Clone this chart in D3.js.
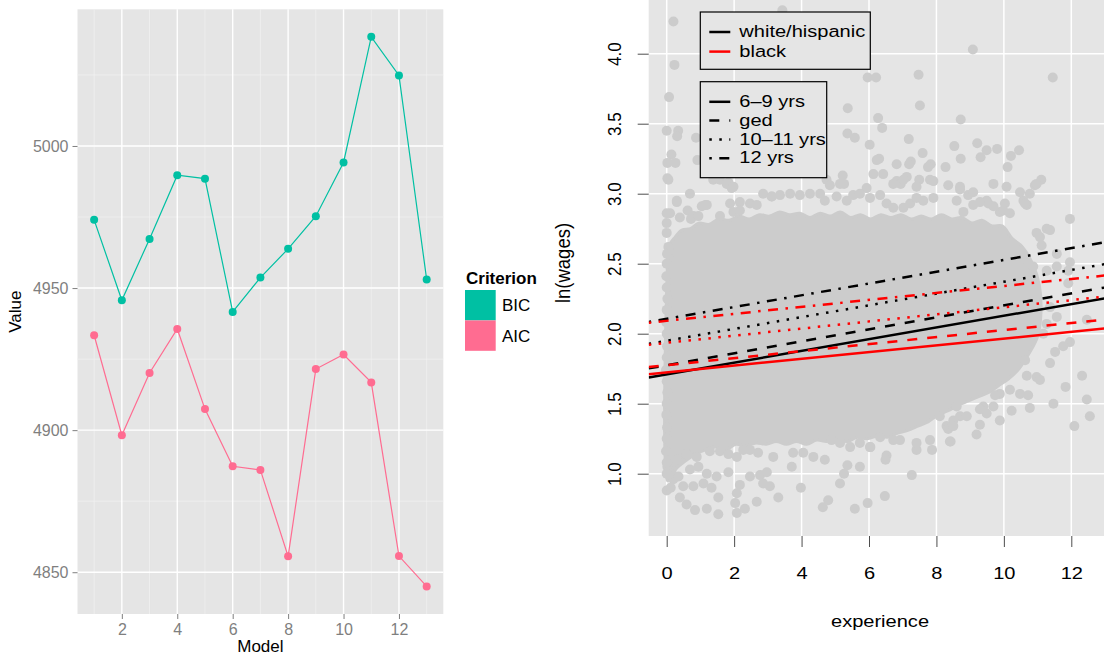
<!DOCTYPE html>
<html>
<head>
<meta charset="utf-8">
<script src="https://cdn.jsdelivr.net/npm/d3@7"></script>
<style>
  body { margin: 0; background: #ffffff; }
  svg { display: block; font-family: "Liberation Sans", Arial, Helvetica, sans-serif; }
</style>
</head>
<body>
<svg id="chart" width="1104" height="655"></svg>
<script>
// ---------- Left panel: information criteria by model ----------
const models = [1, 2, 3, 4, 5, 6, 7, 8, 9, 10, 11, 12, 13];
const bicValues = [4974.0, 4945.7, 4967.3, 4989.7, 4988.5, 4941.6, 4953.7, 4963.8, 4975.3, 4994.2, 5038.4, 5024.8, 4953.0];
const aicValues = [4933.4, 4898.2, 4920.1, 4935.6, 4907.4, 4887.3, 4886.0, 4855.6, 4921.5, 4926.6, 4916.8, 4855.7, 4845.0];
const criterionNames = ["BIC", "AIC"];
const criterionColors = ["#00c0a3", "#ff6c91"];
const modelTicks = [2, 4, 6, 8, 10, 12];
const modelMinorTicks = [1, 3, 5, 7, 9, 11, 13];
const valueTicks = [4850, 4900, 4950, 5000];
const valueMinorTicks = [4875, 4925, 4975, 5025];

// ---------- Right panel: log wages against experience ----------
const experienceTicks = [0, 2, 4, 6, 8, 10, 12];
const wageTicks = [1.0, 1.5, 2.0, 2.5, 3.0, 3.5, 4.0];
const raceGroups = ["white/hispanic", "black"];
const raceColors = ["#000000", "#ff0000"];
const educGroups = ["6\u20139 yrs", "ged", "10\u201311 yrs", "12 yrs"];
const educDashes = ["none", "10,10", "2.5,7.5", "2.5,7.5,10,7.5"];
// fitted lines: intercept at experience 0 and slope, per education group
const whiteIntercepts = [1.710, 1.775, 1.950, 2.106];
const whiteSlopes = [0.0418, 0.0427, 0.0421, 0.0421];
const blackIntercepts = [1.724, 1.775, 1.935, 2.092];
const blackSlopes = [0.0241, 0.0251, 0.0254, 0.0249];

// outline of the region where the observations overlap into a solid mass
const cloudOutline = [
  [0.02,2.50],[0.05,2.62],[0.25,2.69],[0.45,2.74],[0.70,2.75],[0.95,2.79],[1.25,2.78],[1.55,2.82],
  [1.85,2.81],[2.15,2.84],[2.45,2.82],[2.75,2.85],[3.05,2.84],[3.35,2.87],[3.65,2.85],[3.95,2.86],
  [4.25,2.83],[4.55,2.86],[4.85,2.84],[5.15,2.87],[5.45,2.83],[5.75,2.85],[6.05,2.82],[6.35,2.85],
  [6.65,2.83],[6.95,2.85],[7.25,2.82],[7.55,2.84],[7.85,2.82],[8.15,2.85],[8.45,2.82],[8.75,2.83],
  [9.05,2.79],[9.35,2.81],[9.65,2.77],[9.95,2.77],[10.25,2.68],[10.55,2.62],[10.85,2.50],[11.05,2.35],
  [11.10,2.15],[11.00,1.98],[10.75,1.86],[10.45,1.75],[10.15,1.68],[9.85,1.63],[9.55,1.58],[9.25,1.55],
  [8.95,1.52],[8.65,1.49],[8.35,1.45],[8.05,1.42],[7.75,1.37],[7.45,1.34],[7.15,1.31],[6.85,1.29],
  [6.55,1.26],[6.25,1.27],[5.95,1.25],[5.65,1.26],[5.35,1.23],[5.05,1.25],[4.75,1.23],[4.45,1.24],
  [4.15,1.21],[3.85,1.23],[3.55,1.21],[3.25,1.23],[2.95,1.21],[2.65,1.22],[2.35,1.20],[2.05,1.21],
  [1.75,1.17],[1.45,1.19],[1.15,1.17],[0.85,1.14],[0.55,1.09],[0.30,1.04],[0.10,0.97],[0.02,0.95]
];

// individual observations around that mass: [experience, ln(wage)]
const cloudPoints = [
  [0.20,4.23],[3.43,4.31],[0.23,3.92],[0.07,3.69],[9.08,4.03],[7.47,3.85],[5.96,3.83],[6.21,3.83],
  [11.45,3.83],[5.37,3.61],[7.51,3.63],[6.27,3.54],[6.39,3.47],[8.72,3.53],
  [0.00,3.45],[0.34,3.45],[0.31,3.41],[0.87,3.40],[5.36,3.43],[5.58,3.40],[6.02,3.35],[7.18,3.39],
  [8.53,3.34],[9.21,3.36],[9.49,3.31],[9.80,3.32],[10.45,3.31],[10.21,3.27],[7.59,3.29],
  [0.14,3.28],[0.02,3.22],[0.26,3.22],[0.91,3.24],[6.30,3.25],[6.23,3.24],[8.72,3.25],[9.31,3.26],
  [6.82,3.21],[7.24,3.23],[7.19,3.21],[7.83,3.21],[7.75,3.19],[8.27,3.19],[10.11,3.19],
  [0.02,3.11],[5.22,3.13],[6.13,3.14],[6.42,3.14],[7.12,3.12],[7.49,3.10],[7.91,3.09],[8.35,3.06],
  [10.92,3.06],[11.11,3.10],[0.69,3.00],[1.38,3.10],[1.83,3.08],[1.93,3.04],[4.74,3.10],[4.84,3.06],
  [5.26,3.07],[5.93,3.04],[6.82,3.09],[6.94,3.07],[8.70,3.03],[8.94,2.99],
  [11.96,2.82],[10.58,2.95],[10.68,2.92],[10.03,2.93],[9.88,2.87],[9.49,2.95],[9.54,2.93],
  [11.27,2.75],[11.07,2.69],[11.12,2.63],[11.57,2.57],[11.96,2.51],[11.91,2.45],[11.57,2.48],
  [11.27,2.45],[10.87,2.48],[10.72,2.50],[11.91,2.36],[11.37,2.19],[11.57,2.12],[11.27,2.07],
  [11.17,2.00],[11.96,1.94],[11.76,1.91],[11.52,1.87],[11.37,1.79],[10.63,1.81],[10.68,1.70],
  [10.97,1.69],[11.07,1.67],[12.32,1.70],[11.83,1.62],[12.46,1.53],[12.55,1.41],[11.47,1.50],
  [10.77,1.47],[10.72,1.56],[10.48,1.57],[12.09,1.34],[10.23,1.45],[9.88,1.38],[9.29,1.35],
  [9.19,1.28],[8.40,1.23],[8.30,1.34],[9.88,1.57],[10.18,1.60],[9.74,1.56],[9.39,1.48],[9.49,1.43],
  [8.70,1.41],[8.50,1.38],[8.60,1.48],[12.46,2.10],
  [0.05,3.10],[0.30,2.94],[1.04,2.91],[1.19,2.92],[0.10,2.86],[0.39,2.83],[0.79,2.84],[1.58,2.84],
  [1.88,2.93],[2.17,2.94],[2.47,2.93],[2.67,2.92],[1.98,2.87],[2.17,2.88],[3.11,2.98],[3.36,2.99],
  [3.66,3.00],[3.95,2.99],[4.25,3.00],[4.55,3.00],[4.69,2.95],[5.04,2.98],[5.34,2.95],[5.53,2.99],
  [5.73,3.00],[6.03,2.97],[6.33,2.99],[6.52,2.93],[6.72,2.90],[7.02,2.90],[7.22,2.93],[7.41,2.97],
  [7.61,2.95],[7.91,2.97],[8.60,2.95],[8.80,2.87],[9.09,2.92],[9.29,2.94],[9.69,2.91],[9.98,2.88],
  [10.18,2.86],[10.63,2.93],[10.77,3.00],[10.97,3.07],[11.37,2.74],[10.97,2.72],[1.58,3.10],
  [1.78,3.07],[1.98,3.05],[5.14,3.07],[6.72,3.07],[7.02,3.10],[7.41,3.05],[7.81,3.10],[8.70,3.05],
  [9.09,3.01],[9.69,3.07],[10.08,3.05],[10.48,3.01],[2.75,3.15],[2.86,3.00],[3.12,2.98],[0.62,2.88],
  [0.72,2.82],[0.94,2.84],[1.15,2.92],[0.00,2.86],[0.00,2.79],[0.00,2.72],[0.05,2.62],[0.10,2.58],
  [0.30,2.95],
  [0.00,0.88],[0.20,0.96],[0.39,0.83],[0.59,0.78],[0.84,0.74],[1.19,0.75],[1.53,0.71],[0.49,0.91],
  [0.79,0.91],[1.09,0.93],[1.33,0.90],[1.53,0.83],[0.69,1.03],[0.94,1.05],[1.19,1.00],[1.48,0.98],
  [0.30,1.10],[0.59,1.14],[0.89,1.12],[1.28,1.16],[1.83,1.01],[2.17,0.92],[2.08,0.86],[2.47,0.98],
  [2.67,0.80],[3.06,0.91],[2.03,0.79],[2.08,0.72],[2.32,0.75],[2.77,0.99],[2.97,1.01],[2.86,0.93],
  [3.31,0.83],[3.71,1.05],[3.75,1.15],[4.05,1.15],[4.35,1.12],[4.69,1.10],[3.98,0.90],[4.63,0.76],
  [4.79,0.81],[5.14,0.93],[5.26,1.00],[5.36,1.06],[5.73,1.05],[5.58,0.75],[5.96,0.79],[6.04,1.19],
  [6.47,0.84],[6.52,1.13],[6.49,1.10],[7.27,0.99],[7.41,1.17],[7.87,1.17],[8.42,1.23],[8.35,1.32],
  [0.02,1.05],[0.15,1.00],[0.35,0.98],[0.12,0.90],
  [2.47,1.17],[2.71,1.15],[3.16,1.12],[1.58,1.16],[1.83,1.14],[2.08,1.12],[2.27,1.17],
  [4.89,1.24],[5.14,1.22],[5.44,1.19],[5.73,1.22],[6.03,1.19],[6.33,1.26],[6.72,1.24],[6.92,1.24],
  [7.41,1.22],[7.81,1.24],[8.10,1.41],[8.50,1.34],[8.90,1.41],[9.29,1.46],[9.69,1.48],
  // observations at the start of the experience range
  [0.00,1.00],[0.00,1.08],[-0.02,1.16],[0.00,1.25],[0.01,1.33],[-0.01,1.42],[0.00,1.50],[0.02,1.58],
  [0.00,1.66],[-0.02,1.74],[0.00,1.83],[0.01,1.91],[0.00,2.00],[-0.01,2.08],[0.00,2.17],[0.02,2.25],
  [0.00,2.33],[-0.01,2.41],[0.00,2.50],[0.01,2.57]
];

const svg = d3.select("#chart");

// ================= left panel =================
const L = { left: 77.5, right: 443.3, top: 9.3, bottom: 614 };
const xL = d3.scaleLinear().domain([0.4, 13.6]).range([L.left, L.right]);
const yL = d3.scaleLinear().domain([4835.3, 5048.1]).range([L.bottom, L.top]);
const gL = svg.append("g");

gL.append("rect")
  .attr("x", L.left).attr("y", L.top)
  .attr("width", L.right - L.left).attr("height", L.bottom - L.top)
  .attr("fill", "#e5e5e5");

// minor grid
gL.selectAll(".vminor").data(modelMinorTicks).join("line")
  .attr("x1", d => xL(d)).attr("x2", d => xL(d))
  .attr("y1", L.top).attr("y2", L.bottom)
  .attr("stroke", "#f2f2f2").attr("stroke-width", 0.7);
gL.selectAll(".hminor").data(valueMinorTicks).join("line")
  .attr("y1", d => yL(d)).attr("y2", d => yL(d))
  .attr("x1", L.left).attr("x2", L.right)
  .attr("stroke", "#f2f2f2").attr("stroke-width", 0.7);
// major grid
gL.selectAll(".vmajor").data(modelTicks).join("line")
  .attr("x1", d => xL(d)).attr("x2", d => xL(d))
  .attr("y1", L.top).attr("y2", L.bottom)
  .attr("stroke", "#ffffff").attr("stroke-width", 1.4);
gL.selectAll(".hmajor").data(valueTicks).join("line")
  .attr("y1", d => yL(d)).attr("y2", d => yL(d))
  .attr("x1", L.left).attr("x2", L.right)
  .attr("stroke", "#ffffff").attr("stroke-width", 1.4);

// series
const series = [bicValues, aicValues].map((vals, i) => ({
  name: criterionNames[i],
  color: criterionColors[i],
  pts: models.map((m, j) => ({ m: m, v: vals[j] }))
}));
const lineL = d3.line().x(d => xL(d.m)).y(d => yL(d.v));
series.forEach(s => {
  gL.append("path").datum(s.pts)
    .attr("d", lineL).attr("fill", "none")
    .attr("stroke", s.color).attr("stroke-width", 1.2);
  gL.selectAll(null).data(s.pts).join("circle")
    .attr("cx", d => xL(d.m)).attr("cy", d => yL(d.v)).attr("r", 4)
    .attr("fill", s.color);
});

// axes
const axLY = gL.append("g").attr("transform", `translate(${L.left},0)`)
  .call(d3.axisLeft(yL).tickValues(valueTicks).tickSize(5).tickPadding(4).tickFormat(d3.format("d")));
const axLX = gL.append("g").attr("transform", `translate(0,${L.bottom})`)
  .call(d3.axisBottom(xL).tickValues(modelTicks).tickSize(5).tickPadding(5));
[axLY, axLX].forEach(ax => {
  ax.select(".domain").remove();
  ax.selectAll(".tick line").attr("stroke", "#7f7f7f");
  ax.selectAll(".tick text").attr("fill", "#7f7f7f")
    .style("font-size", "16px").style("font-family", "Liberation Sans, Arial, sans-serif");
});

gL.append("text")
  .attr("x", (L.left + L.right) / 2).attr("y", 652)
  .attr("text-anchor", "middle").style("font-size", "17px").text("Model");
gL.append("text")
  .attr("transform", `translate(21,${(L.top + L.bottom) / 2}) rotate(-90)`)
  .attr("text-anchor", "middle").style("font-size", "17px").text("Value");

// legend
const legL = gL.append("g").attr("transform", "translate(465,0)");
legL.append("text").attr("x", 1).attr("y", 284)
  .style("font-size", "17px").style("font-weight", "bold").text("Criterion");
criterionNames.forEach((n, i) => {
  legL.append("rect").attr("x", 0).attr("y", 290 + i * 30.4)
    .attr("width", 30.7).attr("height", 30.4).attr("fill", criterionColors[i]);
  legL.append("text").attr("x", 37).attr("y", 305.2 + i * 30.4).attr("dy", "0.35em")
    .style("font-size", "17px").text(n);
});

// ================= right panel =================
const R = { left: 648.7, right: 1112, top: -10, bottom: 536 };
const xR = d3.scaleLinear().domain([0, 12]).range([666.7, 1071.3]);
const yR = d3.scaleLinear().domain([1, 4]).range([473.7, 53.7]);
const gR = svg.append("g");

svg.append("defs").append("clipPath").attr("id", "clipR")
  .append("rect").attr("x", R.left).attr("y", R.top)
  .attr("width", R.right - R.left).attr("height", R.bottom - R.top);

gR.append("rect")
  .attr("x", R.left).attr("y", R.top)
  .attr("width", R.right - R.left).attr("height", R.bottom - R.top)
  .attr("fill", "#e5e5e5");

const plotR = gR.append("g").attr("clip-path", "url(#clipR)");
plotR.selectAll(".vgrid").data(experienceTicks).join("line")
  .attr("x1", d => xR(d)).attr("x2", d => xR(d))
  .attr("y1", R.top).attr("y2", R.bottom)
  .attr("stroke", "#ffffff").attr("stroke-width", 1.5);
plotR.selectAll(".hgrid").data(wageTicks).join("line")
  .attr("y1", d => yR(d)).attr("y2", d => yR(d))
  .attr("x1", R.left).attr("x2", R.right)
  .attr("stroke", "#ffffff").attr("stroke-width", 1.5);

// overlapping observations
const cloudLine = d3.line().x(d => xR(d[0])).y(d => yR(d[1])).curve(d3.curveCatmullRomClosed);
plotR.append("path").datum(cloudOutline)
  .attr("d", cloudLine)
  .attr("fill", "#cccccc").attr("stroke", "#cccccc")
  .attr("stroke-width", 3).attr("stroke-linejoin", "round");
plotR.selectAll(".obs").data(cloudPoints).join("circle")
  .attr("cx", d => xR(d[0])).attr("cy", d => yR(d[1])).attr("r", 5)
  .attr("fill", "#cccccc");

// fitted lines
const xMin = xR.invert(R.left), xMax = xR.invert(R.right);
const fits = [];
[[whiteIntercepts, whiteSlopes], [blackIntercepts, blackSlopes]].forEach((pair, r) => {
  educGroups.forEach((e, k) => {
    const b0 = pair[0][k], b1 = pair[1][k];
    fits.push({ color: raceColors[r], dash: educDashes[k],
      pts: [[xMin, b0 + b1 * xMin], [xMax, b0 + b1 * xMax]] });
  });
});
const fitLine = d3.line().x(d => xR(d[0])).y(d => yR(d[1]));
plotR.selectAll(".fit").data(fits).join("path")
  .attr("d", d => fitLine(d.pts))
  .attr("fill", "none").attr("stroke", d => d.color)
  .attr("stroke-width", 2.5)
  .attr("stroke-dasharray", d => d.dash);

// axes
const axRX = gR.append("g").attr("transform", `translate(0,${R.bottom})`)
  .call(d3.axisBottom(xR).tickValues(experienceTicks).tickSize(11));
axRX.select(".domain").remove();
axRX.selectAll(".tick line").attr("stroke", "#4d4d4d");
axRX.selectAll(".tick text")
  .attr("y", 43.3).attr("dy", 0).attr("fill", "#000")
  .attr("transform", "scale(1.18,1)")
  .style("font-size", "17px").style("font-family", "Liberation Sans, Arial, sans-serif");

const axRY = gR.append("g").attr("transform", `translate(${R.left},0)`)
  .call(d3.axisLeft(yR).tickValues(wageTicks).tickSize(11).tickFormat(d3.format(".1f")));
axRY.select(".domain").remove();
axRY.selectAll(".tick line").attr("stroke", "#4d4d4d");
axRY.selectAll(".tick text")
  .attr("x", 0).attr("y", 0).attr("dy", 0)
  .attr("text-anchor", "middle").attr("fill", "#000")
  .attr("transform", "translate(-27.7,0) scale(1.12,1) rotate(-90)")
  .style("font-size", "17px").style("font-family", "Liberation Sans, Arial, sans-serif");

gR.append("text")
  .attr("transform", "translate(880,627) scale(1.18,1)")
  .attr("text-anchor", "middle").style("font-size", "17px").text("experience");
gR.append("text")
  .attr("transform", "translate(570,263) scale(1.1,1) rotate(-90)")
  .attr("text-anchor", "middle").style("font-size", "18.5px").text("ln(wages)");

// legends
function legendBox(x, y, w, h, rows, baseline0, step) {
  const g = gR.append("g");
  g.append("rect").attr("x", x).attr("y", y).attr("width", w).attr("height", h)
    .attr("fill", "#e5e5e5").attr("stroke", "#000").attr("stroke-width", 1.2);
  rows.forEach((row, i) => {
    const by = baseline0 + i * step;
    g.append("line")
      .attr("x1", 709.3).attr("x2", 730.3)
      .attr("y1", by - 5.2).attr("y2", by - 5.2)
      .attr("stroke", row.color).attr("stroke-width", 2.5)
      .attr("stroke-dasharray", row.dash);
    g.append("text")
      .attr("transform", `translate(739.3,${by}) scale(1.18,1)`)
      .style("font-size", "17px").text(row.label);
  });
}
legendBox(700.3, 12, 170, 57.3,
  raceGroups.map((r, i) => ({ label: r, color: raceColors[i], dash: "none" })), 37.2, 19.6);
legendBox(700.3, 81.7, 126.4, 96,
  educGroups.map((e, i) => ({ label: e, color: "#000", dash: educDashes[i] })), 107, 18.8);
</script>
</body>
</html>
